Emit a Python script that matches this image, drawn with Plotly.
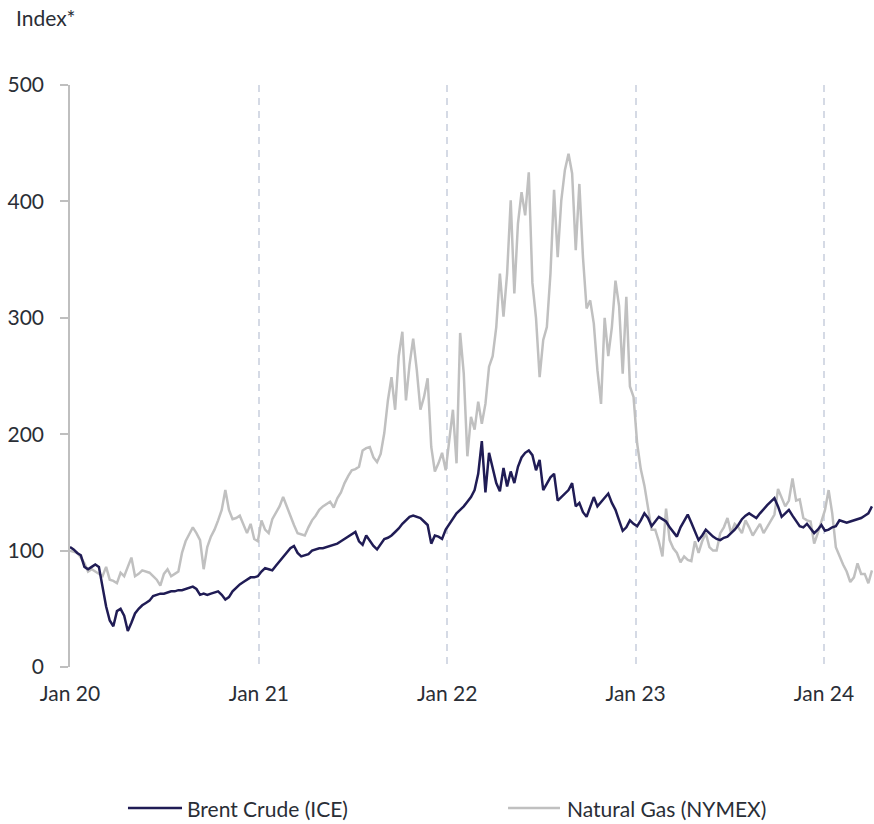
import pandas as pd
import plotly.graph_objects as go

start_date = "2020-01-01"
n_weeks = 223
dates = pd.date_range(start_date, periods=n_weeks, freq="7D")

brent = [
    103, 101, 98, 96, 86, 84, 86, 88, 86, 70,
    52, 40, 35, 48, 50, 44, 31, 38, 46, 50,
    53, 55, 57, 61, 62, 63, 63, 64, 65, 65,
    66, 66, 67, 68, 69, 67, 62, 63, 62, 63,
    64, 65, 62, 58, 60, 65, 68, 71, 73, 75,
    77, 77, 78, 82, 85, 84, 83, 87, 91, 95,
    99, 102, 104, 98, 95, 96, 97, 100, 101, 102,
    102, 103, 104, 105, 106, 108, 110, 112, 114, 116,
    108, 105, 113, 108, 104, 101, 106, 110, 111, 113,
    116, 119, 123, 126, 129, 130, 129, 128, 125, 122,
    106, 113, 112, 110, 118, 123, 128, 132, 135, 138,
    142, 146, 152, 166, 194, 150, 184, 170, 158, 151,
    171, 155, 168, 158, 172, 180, 184, 186, 182, 169,
    178, 152, 158, 163, 166, 143, 146, 149, 152, 158,
    138, 141, 133, 129, 138, 146, 138, 142, 146, 149,
    141, 135, 126, 117, 120, 126, 123, 121, 126, 132,
    128, 121, 125, 129, 127, 125, 120, 116, 112, 120,
    126, 131, 124, 117, 109, 113, 118, 115, 112, 110,
    109, 111, 112, 115, 118, 122, 127, 130, 132, 130,
    128, 132, 136, 139, 142, 145, 138, 129, 132, 135,
    130, 126, 121, 120, 123, 119, 115, 118, 122, 117,
    118, 120, 121, 126, 125, 124, 125, 126, 127, 128,
    130, 132, 138,
]

natgas = [
    100, 99, 98, 94, 89, 82, 84, 82, 80, 78,
    86, 75, 74, 72, 81, 78, 86, 94, 78, 80,
    83, 82, 81, 78, 75, 70, 80, 84, 78, 80,
    82, 98, 108, 114, 120, 115, 109, 84, 103, 112,
    118, 126, 135, 152, 135, 127, 128, 130, 122, 115,
    123, 110, 108, 126, 118, 115, 127, 132, 138, 146,
    138, 129, 122, 115, 114, 113, 120, 126, 130, 135,
    138, 140, 142, 137, 145, 150, 158, 164, 169, 170,
    172, 186, 188, 189, 180, 176, 183, 201, 229, 249,
    221, 267, 288, 229, 260, 282, 255, 221, 232, 248,
    189, 168, 175, 184, 169, 195, 221, 175, 287, 252,
    181, 215, 204, 228, 209, 226, 258, 267, 292, 338,
    301, 338, 401, 321, 381, 408, 388, 425, 330, 300,
    249, 281, 292, 338, 410, 352, 401, 427, 441, 424,
    358, 415, 352, 308, 315, 295, 255, 226, 300, 267,
    292, 332, 310, 252, 318, 241, 232, 192, 170, 156,
    138, 118, 118, 108, 95, 136, 109, 102, 98, 90,
    95, 92, 91, 108, 98, 108, 115, 103, 100, 100,
    115, 120, 128, 115, 123, 120, 115, 126, 120, 113,
    118, 123, 115, 120, 126, 131, 153, 145, 138, 143,
    162, 143, 144, 128, 126, 125, 106, 115, 125, 135,
    152, 132, 103, 95, 88, 82, 73, 77, 89, 80,
    80, 72, 83,
]

series_names = ["Brent Crude (ICE)", "Natural Gas (NYMEX)"]
series_colors = ["#201c55", "#c0c0c0"]
y_ticks = [0, 100, 200, 300, 400, 500]
x_ticks = ["2020-01-01", "2021-01-01", "2022-01-01", "2023-01-01", "2024-01-01"]
x_range = ["2020-01-01", "2024-04-05"]

FONT = "Lato"
FS = 21
TXT = "#2a2e36"

fig = go.Figure()
fig.add_trace(go.Scatter(x=dates, y=natgas, mode="lines", name=series_names[1],
                         line=dict(color=series_colors[1], width=2.5)))
fig.add_trace(go.Scatter(x=dates, y=brent, mode="lines", name=series_names[0],
                         line=dict(color=series_colors[0], width=2.5)))

# Custom legend (line sample + label), positioned in paper coordinates
leg_y = -0.2423
leg_items = [(0.0722, 0.1395, 0.1432, 0), (0.5455, 0.6102, 0.6164, 1)]
shapes = []
annotations = [dict(text="Index*", xref="paper", yref="paper", x=-0.0697, y=1.1168,
                    xanchor="left", yanchor="middle", showarrow=False,
                    font=dict(family=FONT, size=FS, color=TXT))]
for x0, x1, xt, i in leg_items:
    shapes.append(dict(type="line", xref="paper", yref="paper", x0=x0, x1=x1,
                       y0=leg_y, y1=leg_y, line=dict(color=series_colors[i], width=2.6)))
    annotations.append(dict(text=series_names[i], xref="paper", yref="paper", x=xt,
                            y=leg_y, xanchor="left", yanchor="middle", showarrow=False,
                            font=dict(family=FONT, size=FS, color=TXT)))

fig.update_layout(
    width=874, height=824,
    margin=dict(l=70, r=1, t=85, b=157, autoexpand=False),
    paper_bgcolor="white", plot_bgcolor="white",
    font=dict(family=FONT, size=FS, color=TXT),
    showlegend=False,
    hovermode=False,
    shapes=shapes,
    annotations=annotations,
    xaxis=dict(type="date", range=x_range, tickvals=x_ticks, tickformat="%b %y",
               showline=False, ticks="", showgrid=True, gridcolor="#d5dae5",
               gridwidth=1.5, griddash="7px,6px", zeroline=False,
               ticklabelstandoff=12, automargin=False),
    yaxis=dict(range=[0, 500], tickvals=y_ticks, showline=True, linecolor="#bfbfbf",
               linewidth=1.5, ticks="outside", tickcolor="#bfbfbf", ticklen=8,
               tickwidth=1.5, showgrid=False, zeroline=False,
               ticklabelstandoff=12, automargin=False),
)

fig.write_html("out.html", config={"displayModeBar": False},
               post_script="document.body.style.margin='0';")
